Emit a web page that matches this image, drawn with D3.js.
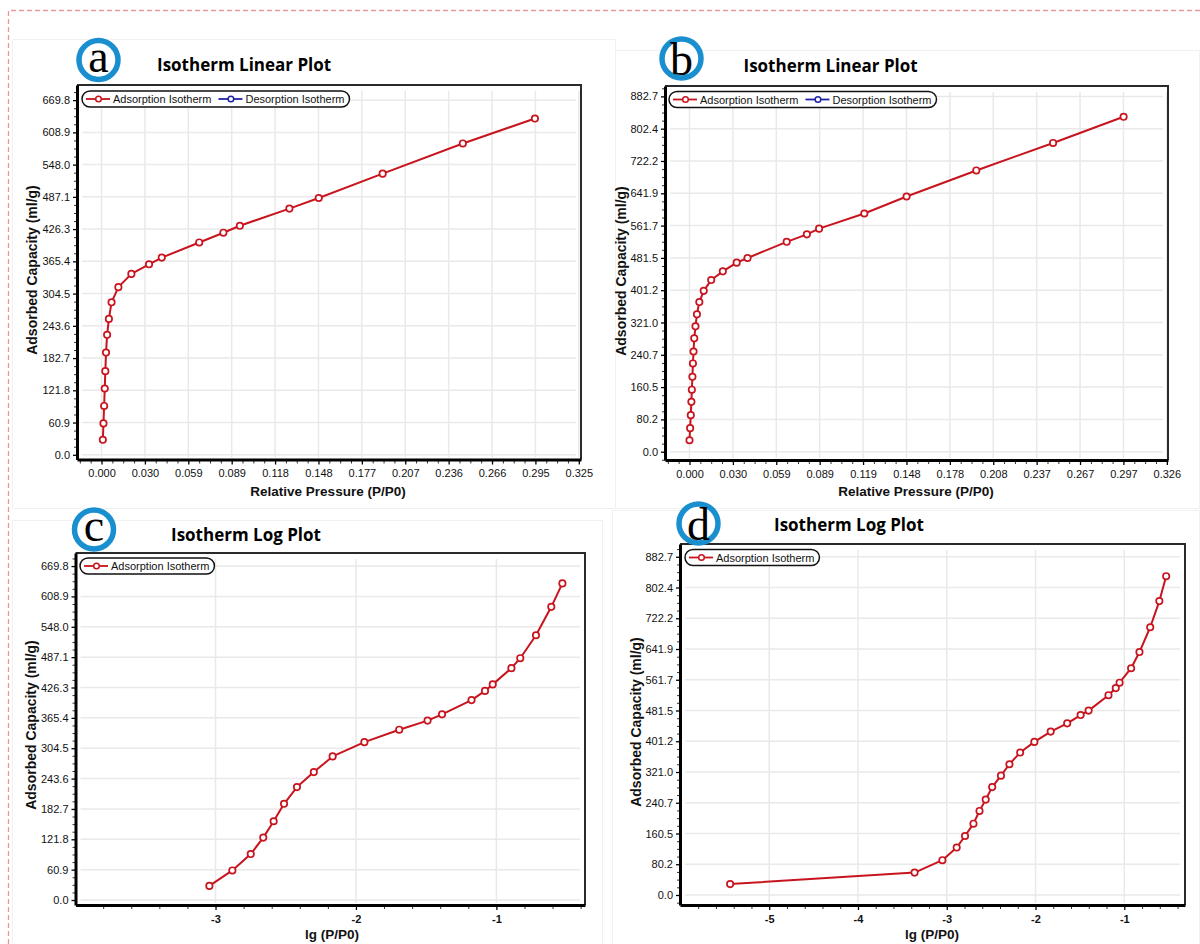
<!DOCTYPE html>
<html><head><meta charset="utf-8">
<script src="https://cdn.jsdelivr.net/npm/d3@7/dist/d3.min.js"></script>
<style>body{margin:0;background:#fff}svg{display:block}</style>
</head><body>
<svg id="chart" width="1200" height="944"></svg>
<script>
// ---------- DATA ----------
// Sample 1 (panels a, c)
const pressure1 = [0.000904, 0.001318, 0.001782, 0.002188, 0.002594, 0.003076, 0.003802, 0.005012, 0.006823, 0.011482, 0.020324, 0.032359, 0.041020, 0.066527, 0.082985, 0.094189, 0.127938, 0.147911, 0.191426, 0.246037, 0.295121];
const adsorbed1 = [28.3, 59.3, 92.2, 125.2, 158.0, 193.0, 226.5, 256.6, 288.0, 316.6, 341.6, 359.8, 372.4, 401.0, 419.4, 432.5, 465.0, 485.0, 531.0, 588.0, 635.0];
// Sample 2 (panels b, d)
const pressure2 = [0.00000363, 0.000434, 0.000893, 0.001294, 0.001607, 0.002000, 0.002339, 0.002748, 0.003251, 0.004083, 0.005082, 0.006714, 0.009705, 0.014825, 0.022751, 0.032211, 0.039628, 0.066374, 0.080168, 0.088512, 0.119399, 0.148252, 0.195884, 0.248313, 0.296483];
const adsorbed2 = [28.5, 58.5, 90.8, 123.8, 154.0, 186.1, 219.3, 249.0, 281.6, 311.4, 341.2, 371.8, 399.6, 426.4, 448.0, 469.6, 481.2, 521.4, 540.0, 554.1, 591.8, 634.0, 698.7, 767.0, 832.0];

// Tick labels
const xTickLabelsA = ["0.000","0.030","0.059","0.089","0.118","0.148","0.177","0.207","0.236","0.266","0.295","0.325"];
const xTickLabelsB = ["0.000","0.030","0.059","0.089","0.119","0.148","0.178","0.208","0.237","0.267","0.297","0.326"];
const yTickLabels1 = ["0.0","60.9","121.8","182.7","243.6","304.5","365.4","426.3","487.1","548.0","608.9","669.8"];
const yTickLabels2 = ["0.0","80.2","160.5","240.7","321.0","401.2","481.5","561.7","641.9","722.2","802.4","882.7"];
const xMaxA = 0.325, xMaxB = 0.326, yMax1 = 669.8, yMax2 = 882.7;
const logTicksC = [-3, -2, -1];
const logTicksD = [-5, -4, -3, -2, -1];

const panelLetters = ["a", "b", "c", "d"];
const titleLinear = "Isotherm Linear Plot";
const titleLog = "Isotherm Log Plot";
const xTitleLinear = "Relative Pressure (P/P0)";
const xTitleLog = "lg (P/P0)";
const yTitle = "Adsorbed Capacity (ml/g)";
const legendLinear = [{label: "Adsorption Isotherm", color: "#c8141e"}, {label: "Desorption Isotherm", color: "#1f23a3"}];
const legendLog = [{label: "Adsorption Isotherm", color: "#c8141e"}];

// ---------- DRAWING ----------
const svg = d3.select("#chart");
svg.append("rect").attr("width", 1200).attr("height", 944).attr("fill", "#fff");

// faint panel frames
const frames = [[12, 39, 603, 469], [615, 50, 584, 458], [12, 520, 590, 430], [612, 510, 587, 440]];
frames.forEach(f => svg.append("rect").attr("x", f[0] + 0.5).attr("y", f[1] + 0.5).attr("width", f[2]).attr("height", f[3])
  .attr("fill", "none").attr("stroke", "#f1f1f1").attr("stroke-width", 1));

// dashed outer border
svg.append("path").attr("d", "M8.5,944 V10.5 H1200").attr("fill", "none")
  .attr("stroke", "#e49a9a").attr("stroke-width", 1.3).attr("stroke-dasharray", "5,3");

const LINE_COLOR = "#c8141e";
const FONT = "'Liberation Sans', Arial, sans-serif";

function range11(max) { return d3.range(12).map(i => i * max / 11); }

function drawPanel(p) {
  const g = svg.append("g");
  const b = p.box;
  const x = d3.scaleLinear().domain(p.xDomain).range([b.left, b.right]);
  const y = d3.scaleLinear().domain(p.yDomain).range([b.bottom, b.top]);

  // grid
  g.append("g").selectAll("line").data(p.xTicks).join("line")
    .attr("x1", d => x(d)).attr("x2", d => x(d)).attr("y1", b.top + 6).attr("y2", b.bottom - 2)
    .attr("stroke", "#e9e9e9").attr("stroke-width", 1.5);
  g.append("g").selectAll("line").data(p.yTicks).join("line")
    .attr("y1", d => y(d)).attr("y2", d => y(d)).attr("x1", b.left + 5).attr("x2", b.right - 5)
    .attr("stroke", "#e9e9e9").attr("stroke-width", 1.5);

  // frame (top/right)
  g.append("path").attr("d", `M${b.left},${b.top}H${b.right}V${b.bottom}`)
    .attr("fill", "none").attr("stroke", "#2a2a2a").attr("stroke-width", 2);

  // minor ticks
  const minorAxX = g.append("g").attr("transform", `translate(0,${b.bottom})`)
    .call(d3.axisBottom(x).tickValues(p.xMinor).tickSize(4).tickSizeOuter(0).tickFormat(""));
  minorAxX.select(".domain").remove();
  minorAxX.selectAll("line").attr("stroke", "#333").attr("stroke-width", 1);
  const minorAxY = g.append("g").attr("transform", `translate(${b.left},0)`)
    .call(d3.axisLeft(y).tickValues(p.yMinor).tickSize(3).tickSizeOuter(0).tickFormat(""));
  minorAxY.select(".domain").remove();
  minorAxY.selectAll("line").attr("stroke", "#333").attr("stroke-width", 1);

  // major axes
  const ax = g.append("g").attr("transform", `translate(0,${b.bottom})`)
    .call(d3.axisBottom(x).tickValues(p.xTicks).tickFormat((d, i) => p.xLabels[i]).tickSize(5).tickSizeOuter(0).tickPadding(5));
  ax.select(".domain").attr("stroke", "#000").attr("stroke-width", 3);
  ax.selectAll(".tick line").attr("stroke", "#000").attr("stroke-width", 1.3);
  ax.selectAll("text").attr("font-family", FONT).attr("font-size", p.xLabelSize || 11)
    .attr("font-weight", p.xLabelWeight || "normal").attr("fill", "#111");

  const ay = g.append("g").attr("transform", `translate(${b.left},0)`)
    .call(d3.axisLeft(y).tickValues(p.yTicks).tickFormat((d, i) => p.yLabels[i]).tickSize(4).tickSizeOuter(0).tickPadding(3));
  ay.select(".domain").attr("stroke", "#000").attr("stroke-width", 3);
  ay.selectAll(".tick line").attr("stroke", "#000").attr("stroke-width", 1.3);
  ay.selectAll("text").attr("font-family", FONT).attr("font-size", 11).attr("fill", "#111");

  // data line
  const pts = p.xs.map((v, i) => ({x: v, y: p.ys[i]}));
  g.append("path").datum(pts)
    .attr("d", d3.line().x(d => x(d.x)).y(d => y(d.y)))
    .attr("fill", "none").attr("stroke", LINE_COLOR).attr("stroke-width", 2).attr("stroke-linejoin", "round");
  g.append("g").selectAll("circle").data(pts).join("circle")
    .attr("cx", d => x(d.x)).attr("cy", d => y(d.y)).attr("r", 3.2)
    .attr("fill", "#fff").attr("stroke", LINE_COLOR).attr("stroke-width", 1.7);

  // legend
  const lg = g.append("g");
  const lrect = lg.append("rect");
  let cx = p.legend.x + 4;
  const cy = p.legend.y;
  p.legendItems.forEach(it => {
    lg.append("line").attr("x1", cx).attr("x2", cx + 24).attr("y1", cy).attr("y2", cy)
      .attr("stroke", it.color).attr("stroke-width", 1.8);
    lg.append("circle").attr("cx", cx + 12.5).attr("cy", cy).attr("r", 2.8)
      .attr("fill", "#fff").attr("stroke", it.color).attr("stroke-width", 1.5);
    const t = lg.append("text").attr("x", cx + 27).attr("y", cy + 4).text(it.label)
      .attr("font-family", FONT).attr("font-size", 11).attr("fill", "#111");
    cx = cx + 27 + t.node().getComputedTextLength() + 7;
  });
  lrect.attr("x", p.legend.x).attr("y", cy - 8).attr("width", cx - 7 + 5 - p.legend.x).attr("height", 16)
    .attr("rx", 8).attr("fill", "#fff").attr("stroke", "#111").attr("stroke-width", 1.5);

  // badge
  g.append("circle").attr("cx", p.badge.x).attr("cy", p.badge.y).attr("r", 19.5)
    .attr("fill", "#fff").attr("stroke", "#1a8fcf").attr("stroke-width", 5.5);
  const bt = g.append("text").attr("x", p.badge.x).attr("y", p.badge.y).attr("text-anchor", "middle")
    .attr("font-family", "'Liberation Serif', 'Times New Roman', serif").attr("font-size", 46).attr("fill", "#000")
    .text(p.letter);
  const bb = bt.node().getBBox();
  // center glyph vertically in the circle
  const glyphTop = { a: 0.46, b: 0.69, c: 0.46, d: 0.69 }[p.letter] * 46;
  bt.attr("y", p.badge.y + glyphTop / 2 + 1);

  // title
  g.append("text").attr("x", p.title.x).attr("y", p.title.y).text(p.titleText)
    .attr("font-family", "'Open Sans', 'Noto Sans', sans-serif").attr("font-weight", "bold")
    .attr("font-size", 17).attr("fill", "#000");

  // axis titles
  g.append("text").attr("x", p.xTitle.x).attr("y", p.xTitle.y).attr("text-anchor", "middle")
    .text(p.xTitleText).attr("font-family", FONT).attr("font-weight", "bold").attr("font-size", 13.5).attr("fill", "#111");
  g.append("text").attr("transform", `translate(${p.yTitle.x},${p.yTitle.y}) rotate(-90)`).attr("text-anchor", "middle")
    .text(yTitle).attr("font-family", FONT).attr("font-weight", "bold").attr("font-size", 14).attr("fill", "#111");
}

function minorTicks(domain, step, sub) {
  const s = step / sub, out = [];
  const start = Math.ceil(domain[0] / s - 1e-9), end = Math.floor(domain[1] / s + 1e-9);
  for (let k = start; k <= end; k++) { if (k % sub !== 0) out.push(k * s); }
  return out;
}

// Panel a
const dA = {x: [-0.0167, 0.3265], y: [-8.9, 698.4]};
drawPanel({
  letter: panelLetters[0], titleText: titleLinear, xTitleText: xTitleLinear,
  box: {left: 77, top: 85, right: 581, bottom: 459.5},
  xDomain: dA.x, yDomain: dA.y,
  xTicks: range11(xMaxA), xLabels: xTickLabelsA, yTicks: range11(yMax1), yLabels: yTickLabels1,
  xMinor: minorTicks(dA.x, xMaxA / 11, 4), yMinor: minorTicks(dA.y, yMax1 / 11, 4),
  xs: pressure1, ys: adsorbed1,
  legend: {x: 82, y: 99}, legendItems: legendLinear,
  badge: {x: 98.5, y: 60}, title: {x: 157, y: 71},
  xTitle: {x: 328, y: 496}, yTitle: {x: 36.5, y: 270}
});

// Panel b
const dB = {x: [-0.01673, 0.3268], y: [-20.6, 908.5]};
drawPanel({
  letter: panelLetters[1], titleText: titleLinear, xTitleText: xTitleLinear,
  box: {left: 665, top: 86, right: 1168, bottom: 460},
  xDomain: dB.x, yDomain: dB.y,
  xTicks: range11(xMaxB), xLabels: xTickLabelsB, yTicks: range11(yMax2), yLabels: yTickLabels2,
  xMinor: minorTicks(dB.x, xMaxB / 11, 4), yMinor: minorTicks(dB.y, yMax2 / 11, 4),
  xs: pressure2, ys: adsorbed2,
  legend: {x: 669, y: 99.5}, legendItems: legendLinear,
  badge: {x: 681.5, y: 58.5}, title: {x: 743.5, y: 71.5},
  xTitle: {x: 916, y: 496}, yTitle: {x: 626, y: 271}
});

// Panel c
const dC = {x: [-3.997, -0.369], y: [-10.0, 696.0]};
drawPanel({
  letter: panelLetters[2], titleText: titleLog, xTitleText: xTitleLog,
  box: {left: 75.5, top: 553, right: 585, bottom: 905},
  xDomain: dC.x, yDomain: dC.y,
  xTicks: logTicksC, xLabels: logTicksC.map(String), yTicks: range11(yMax1), yLabels: yTickLabels1,
  xLabelWeight: "bold",
  xMinor: minorTicks(dC.x, 1, 5), yMinor: minorTicks(dC.y, yMax1 / 11, 4),
  xs: pressure1.map(v => Math.log10(v)), ys: adsorbed1,
  legend: {x: 80, y: 566}, legendItems: legendLog,
  badge: {x: 94, y: 529.5}, title: {x: 171, y: 541},
  xTitle: {x: 332, y: 939}, yTitle: {x: 36, y: 725}
});

// Panel d
const dD = {x: [-6.005, -0.316], y: [-26.1, 916.0]};
drawPanel({
  letter: panelLetters[3], titleText: titleLog, xTitleText: xTitleLog,
  box: {left: 680, top: 544, right: 1185, bottom: 905},
  xDomain: dD.x, yDomain: dD.y,
  xTicks: logTicksD, xLabels: logTicksD.map(String), yTicks: range11(yMax2), yLabels: yTickLabels2,
  xLabelWeight: "bold",
  xMinor: minorTicks(dD.x, 1, 5), yMinor: minorTicks(dD.y, yMax2 / 11, 4),
  xs: pressure2.map(v => Math.log10(v)), ys: adsorbed2,
  legend: {x: 685, y: 557.5}, legendItems: legendLog,
  badge: {x: 698.5, y: 523.5}, title: {x: 774, y: 531},
  xTitle: {x: 932, y: 939}, yTitle: {x: 641, y: 722}
});
</script>
</body></html>
